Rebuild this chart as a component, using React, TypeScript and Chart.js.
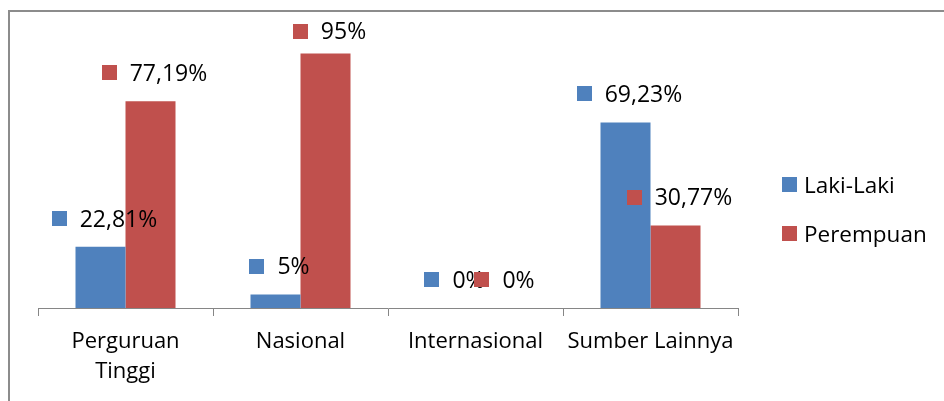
import React, { useEffect, useRef } from "react";
import { Chart, registerables } from "chart.js";

Chart.register(...registerables);

// ---- data ----
const categories: (string | string[])[] = [["Perguruan", "Tinggi"], "Nasional", "Internasional", "Sumber Lainnya"];
const seriesNames = ["Laki-Laki", "Perempuan"];
const lakiLaki = [22.81, 5, 0, 69.23];
const perempuan = [77.19, 95, 0, 30.77];
const seriesColors = ["#4F81BD", "#C0504D"];

const FONT = "'Open Sans'";
const TICK_SIZE = 22;
const LABEL_SIZE = 23;
const LEGEND_SIZE = 22.5;
const CAPR = 0.714;

const fmt = (v: number) => String(v).replace(".", ",") + "%";

const excelPlugin = {
  id: "excelLabels",
  afterDatasetsDraw(chart: any) {
    const ctx = chart.ctx as CanvasRenderingContext2D;
    ctx.save();
    ctx.font = `${LABEL_SIZE}px ${FONT}`;
    ctx.textBaseline = "alphabetic";
    ctx.textAlign = "left";
    chart.data.datasets.forEach((ds: any, di: number) => {
      const meta = chart.getDatasetMeta(di);
      meta.data.forEach((bar: any, i: number) => {
        const text = fmt(ds.data[i]);
        const tw = ctx.measureText(text).width;
        const total = 15 + 13 + tw;
        const left = bar.x - total / 2 + 4;
        let cy = bar.y - 28.5;
        if (cy < 19) cy = 19;
        ctx.fillStyle = ds.backgroundColor;
        ctx.fillRect(Math.round(left), Math.round(cy - 7.5), 15, 15);
        ctx.fillStyle = "#000";
        ctx.fillText(text, left + 28, cy + (CAPR * LABEL_SIZE) / 2);
      });
    });
    // legend
    ctx.font = `${LEGEND_SIZE}px ${FONT}`;
    const lx = 772;
    chart.data.datasets.forEach((ds: any, di: number) => {
      const cy = 172.5 + di * 49;
      ctx.fillStyle = ds.backgroundColor;
      ctx.fillRect(lx, Math.round(cy - 7.5), 15, 15);
      ctx.fillStyle = "#000";
      ctx.fillText(ds.label, lx + 22, cy + (CAPR * LEGEND_SIZE) / 2);
    });
    ctx.restore();
  },
};

export default function App() {
  const ref = useRef<HTMLCanvasElement>(null);
  useEffect(() => {
    const chart = new Chart(ref.current!, {
      type: "bar",
      data: {
        labels: categories as any,
        datasets: [
          { label: seriesNames[0], data: lakiLaki, backgroundColor: seriesColors[0], borderWidth: 0 },
          { label: seriesNames[1], data: perempuan, backgroundColor: seriesColors[1], borderWidth: 0 },
        ],
      },
      options: {
        responsive: false,
        animation: false,
        events: [],
        layout: { padding: { left: 28, right: 206, top: 28, bottom: 0 } },
        datasets: { bar: { categoryPercentage: 100 / 175, barPercentage: 1 } } as any,
        plugins: { legend: { display: false }, tooltip: { enabled: false } },
        scales: {
          x: {
            grid: { display: true, drawOnChartArea: false, drawTicks: true, tickLength: 8, color: "#868686", offset: true },
            border: { display: true, color: "#868686", width: 1 },
            ticks: {
              font: { family: FONT, size: TICK_SIZE, lineHeight: 1.37 },
              color: "#000",
              padding: 11,
              maxRotation: 0,
              autoSkip: false,
            },
            afterFit: (s: any) => {
              s.height = 93;
            },
          },
          y: { display: false, min: 0, max: 100 },
        },
      },
      plugins: [excelPlugin],
    });
    return () => chart.destroy();
  }, []);
  return (
    <div
      style={{
        position: "fixed",
        left: 8,
        top: 10,
        width: 936,
        height: 391,
        boxSizing: "border-box",
        borderLeft: "2px solid #8c8c8c",
        borderTop: "2px solid #8c8c8c",
        background: "#fff",
      }}
    >
      <canvas ref={ref} width={934} height={389} style={{ display: "block" }} />
    </div>
  );
}
